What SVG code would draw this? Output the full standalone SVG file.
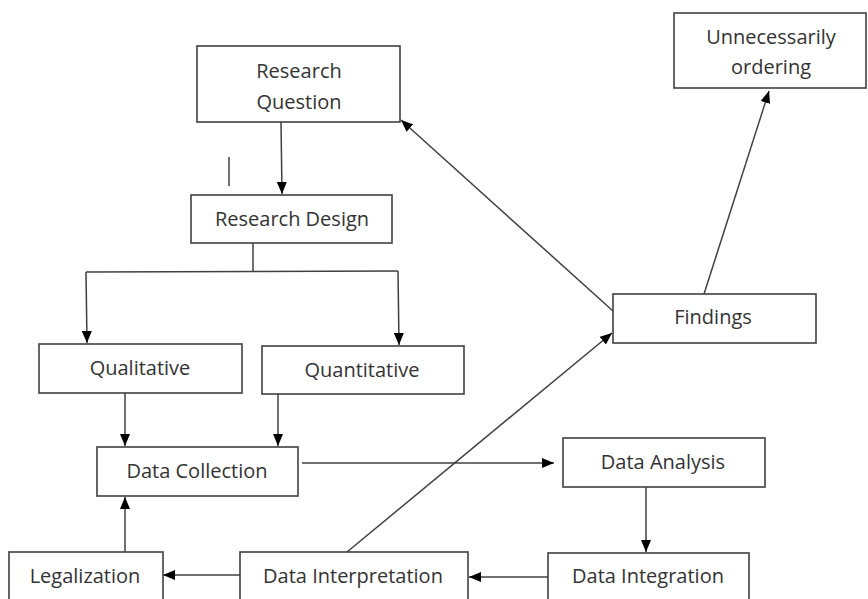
<svg xmlns="http://www.w3.org/2000/svg" width="868" height="599" viewBox="0 0 868 599">
<style>
.box{fill:#fff;stroke:#404040;stroke-width:1.6}
.t{font-family:"Open Sans","Liberation Sans",Arial,sans-serif;font-size:20px;fill:#333;text-anchor:middle}
.c{fill:none;stroke:#404040;stroke-width:1.5}
</style>
<defs>
<marker id="ah" viewBox="0 0 12 10" refX="12" refY="5" markerWidth="12" markerHeight="10" markerUnits="userSpaceOnUse" orient="auto">
<path d="M0,0 L12,5 L0,10 Z" fill="#000"/>
</marker>
</defs>
<rect width="868" height="599" fill="#fff"/>
<g id="connectors">
<line class="c" x1="281" y1="122" x2="282" y2="194" marker-end="url(#ah)"/>
<line class="c" x1="229" y1="157" x2="229" y2="186"/>
<polyline class="c" points="253,243 253,272"/>
<polyline class="c" points="86,272 398,271"/>
<line class="c" x1="86" y1="272" x2="87" y2="343" marker-end="url(#ah)"/>
<line class="c" x1="398" y1="271" x2="399" y2="345" marker-end="url(#ah)"/>
<line class="c" x1="125" y1="393" x2="125" y2="446" marker-end="url(#ah)"/>
<line class="c" x1="278" y1="394" x2="278" y2="446" marker-end="url(#ah)"/>
<line class="c" x1="302" y1="463" x2="554" y2="463" marker-end="url(#ah)"/>
<line class="c" x1="646" y1="487" x2="646" y2="552" marker-end="url(#ah)"/>
<line class="c" x1="548" y1="577" x2="469" y2="577" marker-end="url(#ah)"/>
<line class="c" x1="240" y1="575" x2="163" y2="575" marker-end="url(#ah)"/>
<line class="c" x1="125" y1="552" x2="125" y2="497" marker-end="url(#ah)"/>
<line class="c" x1="347" y1="552" x2="612" y2="333" marker-end="url(#ah)"/>
<line class="c" x1="613" y1="311" x2="401" y2="120" marker-end="url(#ah)"/>
<line class="c" x1="704" y1="294" x2="769" y2="91" marker-end="url(#ah)"/>
</g>
<g id="research-question">
<rect class="box" x="197" y="46" width="203" height="76"/>
<text class="t" x="299" y="78">Research</text>
<text class="t" x="299" y="109">Question</text>
</g>
<g id="research-design">
<rect class="box" x="191" y="195" width="201" height="48"/>
<text class="t" x="292" y="226">Research Design</text>
</g>
<g id="unnecessarily-ordering">
<rect class="box" x="674" y="13" width="192" height="75"/>
<text class="t" x="771" y="44">Unnecessarily</text>
<text class="t" x="771" y="74">ordering</text>
</g>
<g id="findings">
<rect class="box" x="613" y="294" width="203" height="49"/>
<text class="t" x="713" y="324">Findings</text>
</g>
<g id="qualitative">
<rect class="box" x="39" y="344" width="203" height="49"/>
<text class="t" x="140" y="375">Qualitative</text>
</g>
<g id="quantitative">
<rect class="box" x="262" y="346" width="202" height="48"/>
<text class="t" x="362" y="377">Quantitative</text>
</g>
<g id="data-collection">
<rect class="box" x="97" y="447" width="201" height="49"/>
<text class="t" x="197" y="478">Data Collection</text>
</g>
<g id="data-analysis">
<rect class="box" x="563" y="438" width="202" height="49"/>
<text class="t" x="663" y="469">Data Analysis</text>
</g>
<g id="data-integration">
<rect class="box" x="548" y="553" width="201" height="60"/>
<text class="t" x="648" y="583">Data Integration</text>
</g>
<g id="data-interpretation">
<rect class="box" x="240" y="552" width="228" height="60"/>
<text class="t" x="353" y="583">Data Interpretation</text>
</g>
<g id="legalization">
<rect class="box" x="9" y="552" width="154" height="60"/>
<text class="t" x="85" y="583">Legalization</text>
</g>
</svg>
